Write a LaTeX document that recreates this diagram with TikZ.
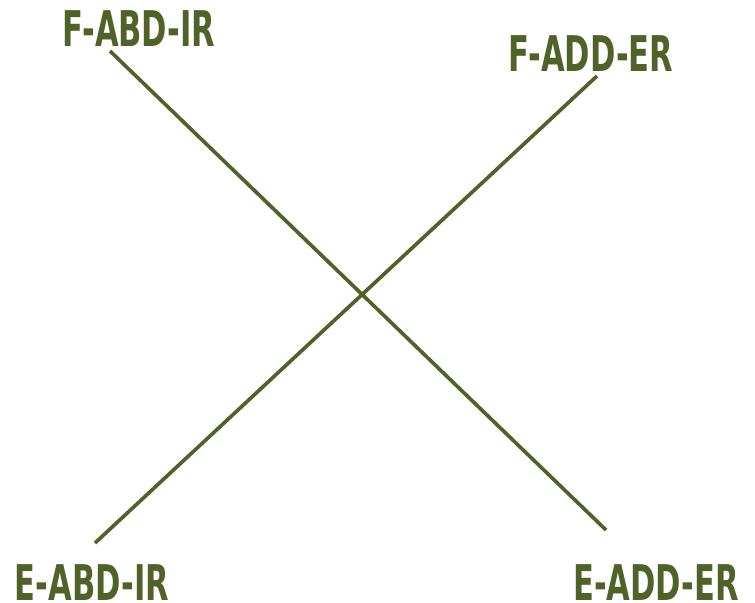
\documentclass[tikz,border=0pt]{standalone}
\usepackage{fontspec}
\setmainfont{DejaVu Sans}
\newfontfamily\condfont[FakeStretch=0.69]{DejaVu Sans Condensed}
\usetikzlibrary{positioning,calc}
\definecolor{olive}{HTML}{4F6228}

\begin{document}
\begin{tikzpicture}
[x=0.025cm,y=-0.025cm,
lbl/.style={text=olive,inner sep=0pt,font=\condfont\bfseries\fontsize{35}{37}\selectfont},
edge/.style={draw=olive,line width=2.6pt}]
\useasboundingbox (0,0) rectangle (755,603);
%% labels
\node[lbl,anchor=base] (fabd) at (139,47) {F-ABD-IR};
\node[lbl,anchor=base] (fadd) at (591,72) {F-ADD-ER};
\node[lbl,anchor=base] (eabd) at (92,600) {E-ABD-IR};
\node[lbl,anchor=base] (eadd) at (656,600) {E-ADD-ER};
%% line ends
\coordinate (fabdend) at (110,51);
\coordinate (faddend) at (597,76);
\coordinate (eabdend) at (95,543);
\coordinate (eaddend) at (606,530);
% cross
\draw[edge] (fabdend) -- (eaddend);
\draw[edge] (faddend) -- (eabdend);
\end{tikzpicture}
\end{document}
